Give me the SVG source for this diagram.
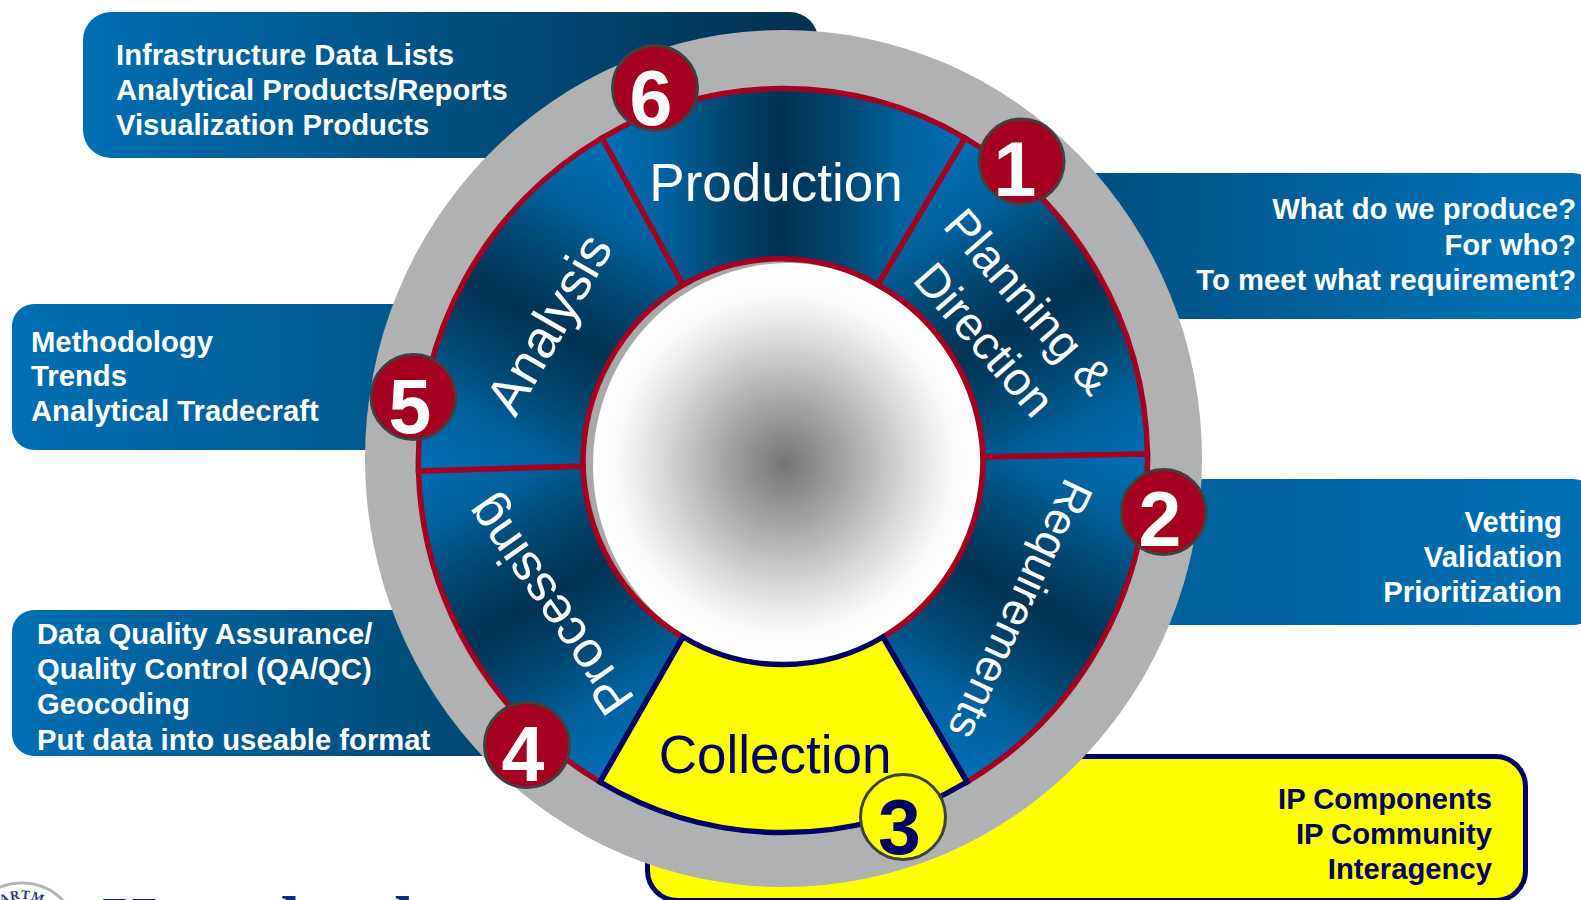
<svg xmlns="http://www.w3.org/2000/svg" width="1581" height="900" viewBox="0 0 1581 900">
<style>
.seg{stroke:#a50021;stroke-width:5.5;stroke-linejoin:miter}
.lab{font-family:"Liberation Sans",Arial,sans-serif;font-size:53px;fill:#fff;text-anchor:middle}
.rot{font-size:47px}
.call{font-family:"Liberation Sans",Arial,sans-serif;font-size:29.25px;font-weight:bold;fill:#fff}
.end{text-anchor:end}
.num{font-family:"Liberation Sans",Arial,sans-serif;font-size:77px;font-weight:bold;fill:#fff;text-anchor:middle}
.badge{fill:#a50021;stroke:#404040;stroke-width:3}
</style>
<defs>
<linearGradient id="cTL" gradientUnits="userSpaceOnUse" x1="83" y1="0" x2="783" y2="0"><stop offset="0" stop-color="#006fb2"/><stop offset="1" stop-color="#003352"/></linearGradient>
<linearGradient id="cR1" gradientUnits="userSpaceOnUse" x1="720" y1="0" x2="1500" y2="0"><stop offset="0" stop-color="#003352"/><stop offset="1" stop-color="#006fb2"/></linearGradient>
<linearGradient id="cR2" gradientUnits="userSpaceOnUse" x1="1100" y1="0" x2="1560" y2="0"><stop offset="0" stop-color="#005f97"/><stop offset="1" stop-color="#006fb2"/></linearGradient>
<linearGradient id="cL1" gradientUnits="userSpaceOnUse" x1="12" y1="0" x2="450" y2="0"><stop offset="0" stop-color="#006fb2"/><stop offset="1" stop-color="#005587"/></linearGradient>
<linearGradient id="cL2" gradientUnits="userSpaceOnUse" x1="12" y1="0" x2="540" y2="0"><stop offset="0" stop-color="#006fb2"/><stop offset="1" stop-color="#004269"/></linearGradient>
<linearGradient id="g0" gradientUnits="userSpaceOnUse" x1="603" y1="460" x2="963" y2="460"><stop offset="0" stop-color="#006fb2"/><stop offset=".18" stop-color="#00609b"/><stop offset=".34" stop-color="#00466f"/><stop offset=".5" stop-color="#003352"/><stop offset=".66" stop-color="#00466f"/><stop offset=".82" stop-color="#00609b"/><stop offset="1" stop-color="#006fb2"/></linearGradient>
<linearGradient id="g1" href="#g0" x1="693" y1="304" x2="873" y2="616"/>
<linearGradient id="g2" href="#g0" x1="873" y1="304" x2="693" y2="616"/>
<linearGradient id="g4" href="#g0" x1="873" y1="616" x2="693" y2="304"/>
<linearGradient id="g5" href="#g0" x1="693" y1="616" x2="873" y2="304"/>
<radialGradient id="hub" gradientUnits="userSpaceOnUse" cx="785" cy="464" r="197"><stop offset="0" stop-color="#757575"/><stop offset=".33" stop-color="#a8a8a8"/><stop offset=".65" stop-color="#dddddd"/><stop offset=".85" stop-color="#fafafa"/><stop offset="1" stop-color="#fff"/></radialGradient>
<path id="sealArc" d="M-19 940A41 41 0 0 1 63 940"/>
</defs>
<rect width="1581" height="900" fill="#fff"/>
<g id="logo">
<path d="M-35 940A57 57 0 0 1 79 940" fill="none" stroke="#b5b5b5" stroke-width="3"/>
<text font-family="Liberation Serif,serif" font-size="13" font-weight="bold" fill="#1f3a7a" text-anchor="middle" letter-spacing="1"><textPath href="#sealArc" startOffset="50%">ARTM</textPath></text>
<text x="102" y="945" font-family="Liberation Serif,serif" font-size="70" font-weight="bold" fill="#0b2f7f">Homeland</text>
</g>
<g id="callouts">
<g id="callout-6"><rect x="83" y="12" width="735" height="146" rx="28" fill="url(#cTL)"/>
<text class="call" x="116" y="65">Infrastructure Data Lists</text><text class="call" x="116" y="100">Analytical Products/Reports</text><text class="call" x="116" y="135">Visualization Products</text></g>
<g id="callout-1"><rect x="1000" y="173" width="595" height="146" rx="22" fill="url(#cR1)"/>
<text class="call end" x="1576" y="219">What do we produce?</text><text class="call end" x="1576" y="255">For who?</text><text class="call end" x="1576" y="290">To meet what requirement?</text></g>
<g id="callout-2"><rect x="1000" y="479" width="595" height="146" rx="22" fill="url(#cR2)"/>
<text class="call end" x="1562" y="532">Vetting</text><text class="call end" x="1562" y="567">Validation</text><text class="call end" x="1562" y="602">Prioritization</text></g>
<g id="callout-3"><rect x="647.5" y="756.5" width="878" height="144" rx="30" fill="#ff0" stroke="#000066" stroke-width="5"/>
<text class="call end" x="1492" y="809" style="fill:#000066">IP Components</text><text class="call end" x="1492" y="844" style="fill:#000066">IP Community</text><text class="call end" x="1492" y="879" style="fill:#000066">Interagency</text></g>
<g id="callout-4"><rect x="12" y="610" width="560" height="146" rx="22" fill="url(#cL2)"/>
<text class="call" x="37" y="644">Data Quality Assurance/</text><text class="call" x="37" y="679">Quality Control (QA/QC)</text><text class="call" x="37" y="714">Geocoding</text><text class="call" x="37" y="750">Put data into useable format</text></g>
<g id="callout-5"><rect x="12" y="304" width="460" height="146" rx="22" fill="url(#cL1)"/>
<text class="call" x="31" y="352">Methodology</text><text class="call" x="31" y="386">Trends</text><text class="call" x="31" y="421">Analytical Tradecraft</text></g>
</g>
<ellipse id="ring" cx="783.5" cy="458.5" rx="418.5" ry="428.5" fill="#b0b1b3"/>
<g id="hub-node"><ellipse cx="782" cy="461" rx="199" ry="205" fill="#a8a8a8"/><ellipse cx="788" cy="465" rx="195" ry="202" fill="url(#hub)"/></g>
<g id="seg-production"><path class="seg" fill="url(#g0)" d="M602 138A365 373 0 0 1 965 138L878 285A200 206 0 0 0 683 285Z"/>
<text class="lab" x="776" y="201">Production</text></g>
<g id="seg-planning"><path class="seg" fill="url(#g1)" d="M965 138A365 373 0 0 1 1147.5 454L983 457A200 206 0 0 0 878 285Z"/>
<text class="lab rot" transform="translate(1029 301) rotate(49)" y="17">Planning &amp;</text><text class="lab rot" transform="translate(985 339) rotate(49)" y="17">Direction</text></g>
<g id="seg-requirements"><path class="seg" fill="url(#g2)" d="M1147.5 454A365 373 0 0 1 967 782L883 637A200 206 0 0 0 983 457Z"/>
<text class="lab" style="font-size:45px" transform="translate(1021 610) rotate(115)" y="16">Requirements</text></g>
<g id="seg-processing"><path class="seg" fill="url(#g4)" d="M600 782A365 373 0 0 1 418.5 471L583 466A200 206 0 0 0 683 637Z"/>
<text class="lab" style="font-size:51px" transform="translate(549 606) rotate(-125)" y="18">Processing</text></g>
<g id="seg-analysis"><path class="seg" fill="url(#g5)" d="M418.5 471A365 373 0 0 1 602 138L683 285A200 206 0 0 0 583 466Z"/>
<text class="lab" transform="translate(549 324) rotate(-60)" y="18">Analysis</text></g>
<g id="seg-collection"><path d="M967 782A365 373 0 0 1 600 782L683 637A200 206 0 0 0 883 637Z" fill="#ff0" stroke="#000066" stroke-width="5.5"/>
<text class="lab" x="775" y="773" style="fill:#000066">Collection</text></g>
<g id="connectors"></g>
<g id="badge-1"><circle class="badge" cx="1021.5" cy="161.5" r="42.5"/><text class="num" x="1015" y="196">1</text></g>
<g id="badge-2"><circle class="badge" cx="1163.5" cy="512" r="42.5"/><text class="num" x="1160" y="546">2</text></g>
<g id="badge-3"><circle cx="903" cy="817" r="42.5" fill="#ff0" stroke="#404040" stroke-width="3"/><text class="num" x="899.5" y="854" style="fill:#000066">3</text></g>
<g id="badge-4"><circle class="badge" cx="527" cy="745" r="42.5"/><text class="num" x="523" y="781">4</text></g>
<g id="badge-5"><circle class="badge" cx="413.5" cy="397" r="42.5"/><text class="num" x="410" y="433">5</text></g>
<g id="badge-6"><circle class="badge" cx="655" cy="88" r="42.5"/><text class="num" x="651" y="125">6</text></g>
</svg>
